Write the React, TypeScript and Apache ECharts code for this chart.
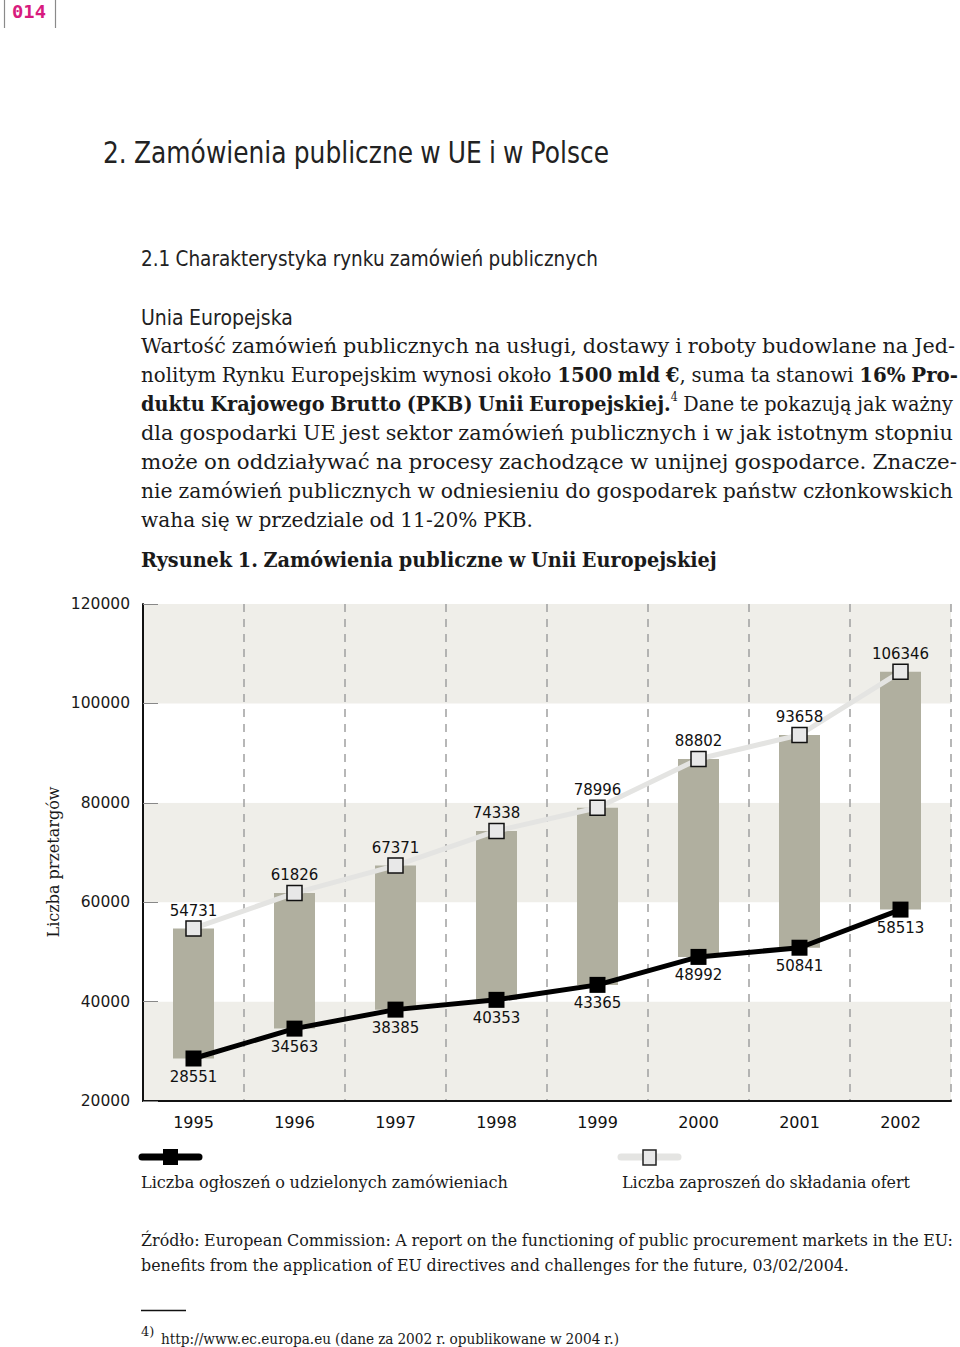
import React, { useEffect, useRef } from "react";
import * as echarts from "echarts";

// ---------- data ----------
const years = ["1995", "1996", "1997", "1998", "1999", "2000", "2001", "2002"];
const awardNotices = [28551, 34563, 38385, 40353, 43365, 48992, 50841, 58513];
const invitations = [54731, 61826, 67371, 74338, 78996, 88802, 93658, 106346];
const yMin = 20000;
const yMax = 120000;
const yStep = 20000;

const seriesNames = [
  "Liczba ogłoszeń o udzielonych zamówieniach",
  "Liczba zaproszeń do składania ofert",
];
const yAxisName = "Liczba przetargów";

const pageNumber = "014";
const heading1 = "2. Zamówienia publiczne w UE i w Polsce";
const heading2 = "2.1 Charakterystyka rynku zamówień publicznych";
const heading3 = "Unia Europejska";
const paragraph = [
  "Wartość zamówień publicznych na usługi, dostawy i roboty budowlane na Jed-",
  "nolitym Rynku Europejskim wynosi około *1500* *mld* *€*, suma ta stanowi *16%* *Pro-*",
  "*duktu* *Krajowego* *Brutto* *(PKB)* *Unii* *Europejskiej.*^4^ Dane te pokazują jak ważny",
  "dla gospodarki UE jest sektor zamówień publicznych i w jak istotnym stopniu",
  "może on oddziaływać na procesy zachodzące w unijnej gospodarce. Znacze-",
  "nie zamówień publicznych w odniesieniu do gospodarek państw członkowskich",
  "waha się w przedziale od 11-20% PKB.",
];
const paragraphEnds = [955, 958, 953, 953, 957, 953, 533];
const figureTitle = "*Rysunek* *1.* *Zamówienia* *publiczne* *w* *Unii* *Europejskiej*";
const sourceLines = [
  "Źródło: European Commission: A report on the functioning of public procurement markets in the EU:",
  "benefits from the application of EU directives and challenges for the future, 03/02/2004.",
];
const footnoteMark = "4)";
const footnoteText = "http://www.ec.europa.eu (dane za 2002 r. opublikowane w 2004 r.)";

// ---------- text helpers ----------
const SERIF = '"DejaVu Serif", serif';
const SANS = '"DejaVu Sans", sans-serif';
const MONO = '"DejaVu Sans Mono", monospace';

let ctx: CanvasRenderingContext2D | null = null;
function tw(t: string, size: number, bold: boolean, family: string) {
  if (!ctx) ctx = document.createElement("canvas").getContext("2d");
  ctx!.font = `${bold ? "bold" : "normal"} ${size}px ${family}`;
  return ctx!.measureText(t).width;
}

type Run = { t: string; b: boolean; sup: boolean };
function parseWord(w: string): Run[] {
  const runs: Run[] = [];
  const re = /\*([^*]+)\*|\^([^^]+)\^|([^*^]+)/g;
  let m: RegExpExecArray | null;
  while ((m = re.exec(w))) {
    if (m[1]) runs.push({ t: m[1], b: true, sup: false });
    else if (m[2]) runs.push({ t: m[2], b: false, sup: true });
    else runs.push({ t: m[3], b: false, sup: false });
  }
  return runs;
}

function textEl(x: number, y: number, text: string, size: number, family: string, fill: string, bold = false, scaleX = 1) {
  return {
    type: "text",
    x,
    y,
    scaleX,
    silent: true,
    style: {
      text,
      fontSize: size,
      fontWeight: bold ? "bold" : "normal",
      fontFamily: family,
      fill,
      align: "left",
      verticalAlign: "middle",
      textAlign: "left",
      textVerticalAlign: "middle",
    },
  };
}

// lays out one line of words so it spans x0..x1 by condensing glyphs (normal word spacing)
function layoutLine(line: string, x0: number, x1: number, y: number, size: number, family: string, fill: string) {
  const words = line.split(" ").map(parseWord);
  const supSize = Math.round(size * 0.55);
  const runW = (r: Run) => tw(r.t, r.sup ? supSize : size, r.b, family);
  const widths = words.map((rs) => rs.reduce((s, r) => s + runW(r), 0));
  const total = widths.reduce((a, b) => a + b, 0);
  const space = tw(" ", size, false, family) * 0.9;
  const n = words.length;
  const natural = total + space * (n - 1);
  const s = (x1 - x0) / natural;
  const gap = space * s;
  const els: any[] = [];
  let x = x0;
  words.forEach((rs, i) => {
    let rx = x;
    rs.forEach((r) => {
      const fs = r.sup ? supSize : size;
      els.push(textEl(rx, r.sup ? y - size * 0.32 : y, r.t, fs, family, fill, r.b, s));
      rx += runW(r) * s;
    });
    x += widths[i] * s + gap;
  });
  return els;
}

function buildGraphics() {
  const g: any[] = [];
  // page number block
  g.push({ type: "line", shape: { x1: 4.5, y1: 0, x2: 4.5, y2: 28 }, style: { stroke: "#8a8a8a", lineWidth: 1.2 }, silent: true });
  g.push({ type: "line", shape: { x1: 55.5, y1: 0, x2: 55.5, y2: 28 }, style: { stroke: "#8a8a8a", lineWidth: 1.2 }, silent: true });
  g.push(...layoutLine(`*${pageNumber}*`, 12, 46, 12, 18, MONO, "#d81b7e"));

  // headings
  g.push(...layoutLine(heading1, 103, 609, 153, 30, SANS, "#222222"));
  g.push(...layoutLine(heading2, 141, 598, 258, 22, SANS, "#222222"));
  g.push(...layoutLine(heading3, 141, 293, 317, 22, SANS, "#222222"));

  // paragraph
  const pys = [346, 375, 404, 433, 462, 491, 520];
  paragraph.forEach((ln, i) => {
    g.push(...layoutLine(ln, 141, paragraphEnds[i], pys[i], 21, SERIF, "#1a1a1a"));
  });
  g.push(...layoutLine(figureTitle, 141, 717, 560, 21, SERIF, "#1a1a1a"));

  // y axis title
  g.push({
    type: "text",
    x: 53,
    y: 862,
    rotation: Math.PI / 2,
    silent: true,
    style: {
      text: yAxisName,
      fontSize: 16,
      fontFamily: SERIF,
      fill: "#1a1a1a",
      align: "center",
      verticalAlign: "middle",
      textAlign: "center",
      textVerticalAlign: "middle",
    },
  });

  // legend
  g.push({ type: "line", shape: { x1: 142, y1: 1157, x2: 199, y2: 1157 }, style: { stroke: "#000", lineWidth: 7, lineCap: "round" }, silent: true });
  g.push({ type: "rect", shape: { x: 163, y: 1149, width: 15, height: 16 }, style: { fill: "#000" }, silent: true });
  g.push({ type: "line", shape: { x1: 621, y1: 1157, x2: 678, y2: 1157 }, style: { stroke: "#e4e4e2", lineWidth: 7, lineCap: "round" }, silent: true });
  g.push({ type: "rect", shape: { x: 643, y: 1150, width: 13, height: 15 }, style: { fill: "#e8e8e8", stroke: "#222", lineWidth: 1.5 }, silent: true });
  g.push(...layoutLine(seriesNames[0], 141, 508, 1182, 17.5, SERIF, "#1a1a1a"));
  g.push(...layoutLine(seriesNames[1], 622, 910, 1182, 17.5, SERIF, "#1a1a1a"));

  // source
  g.push(...layoutLine(sourceLines[0], 141, 953, 1240, 17.5, SERIF, "#1a1a1a"));
  g.push(...layoutLine(sourceLines[1], 141, 849, 1265, 17.5, SERIF, "#1a1a1a"));

  // footnote
  g.push({ type: "line", shape: { x1: 141, y1: 1310.5, x2: 186, y2: 1310.5 }, style: { stroke: "#111", lineWidth: 1.5 }, silent: true });
  g.push(textEl(141, 1331, footnoteMark, 13, SERIF, "#1a1a1a"));
  g.push(...layoutLine(footnoteText, 161, 619, 1338, 15.5, SERIF, "#1a1a1a"));
  return g;
}

export default function App() {
  const ref = useRef<HTMLDivElement>(null);
  useEffect(() => {
    if (!ref.current) return;
    const chart = echarts.init(ref.current, undefined, { renderer: "svg" });
    const option: any = {
      animation: false,
      backgroundColor: "#ffffff",
      grid: { left: 143, top: 604, width: 808, height: 497, containLabel: false },
      xAxis: {
        type: "category",
        data: years,
        boundaryGap: true,
        axisLine: { show: true, lineStyle: { color: "#111", width: 2 } },
        axisTick: { show: false },
        axisLabel: { color: "#111", fontSize: 16, fontFamily: SANS, margin: 13, interval: 0 },
        splitLine: { show: true, interval: 0, lineStyle: { color: "#a0a0a0", width: 1.5, type: [8, 7] } },
      },
      yAxis: {
        type: "value",
        min: yMin,
        max: yMax,
        interval: yStep,
        axisLine: { show: true, lineStyle: { color: "#111", width: 2 } },
        axisTick: { show: true, inside: true, length: 15, lineStyle: { color: "#888", width: 1 } },
        axisLabel: {
          color: "#1a1a1a",
          fontSize: 15.5,
          fontFamily: SANS,
          margin: 13,
          formatter: (v: number) => String(v),
        },
        splitLine: { show: false },
        splitArea: { show: true, areaStyle: { color: ["#efeee9", "#ffffff"] } },
      },
      series: [
        {
          type: "custom",
          name: "range",
          silent: true,
          z: 1,
          data: years.map((_, i) => [i, awardNotices[i], invitations[i]]),
          encode: { x: 0, y: [1, 2] },
          renderItem: (params: any, api: any) => {
            const hi = api.coord([api.value(0), api.value(2)]);
            const lo = api.coord([api.value(0), api.value(1)]);
            const w = api.size([1, 0])[0] * 0.406;
            return {
              type: "rect",
              shape: { x: hi[0] - w / 2, y: hi[1], width: w, height: lo[1] - hi[1] },
              style: { fill: "#b0af9f" },
            };
          },
        },
        {
          type: "line",
          name: seriesNames[1],
          data: invitations,
          z: 3,
          symbol: "rect",
          symbolSize: 15,
          lineStyle: { color: "#e4e4e2", width: 5 },
          itemStyle: { color: "#e8e8e8", borderColor: "#111", borderWidth: 1.5 },
          label: { show: true, position: "top", distance: 2, color: "#111", fontSize: 15, fontFamily: SANS },
          emphasis: { disabled: true },
        },
        {
          type: "line",
          name: seriesNames[0],
          data: awardNotices,
          z: 4,
          symbol: "rect",
          symbolSize: 16,
          lineStyle: { color: "#000", width: 5 },
          itemStyle: { color: "#000" },
          label: { show: true, position: "bottom", distance: 3, color: "#111", fontSize: 15, fontFamily: SANS },
          emphasis: { disabled: true },
        },
      ],
      graphic: buildGraphics(),
    };
    chart.setOption(option);
    return () => chart.dispose();
  }, []);
  return (
    <div
      ref={ref}
      style={{ position: "absolute", left: 0, top: 0, width: 960, height: 1347, background: "#fff" }}
    />
  );
}
